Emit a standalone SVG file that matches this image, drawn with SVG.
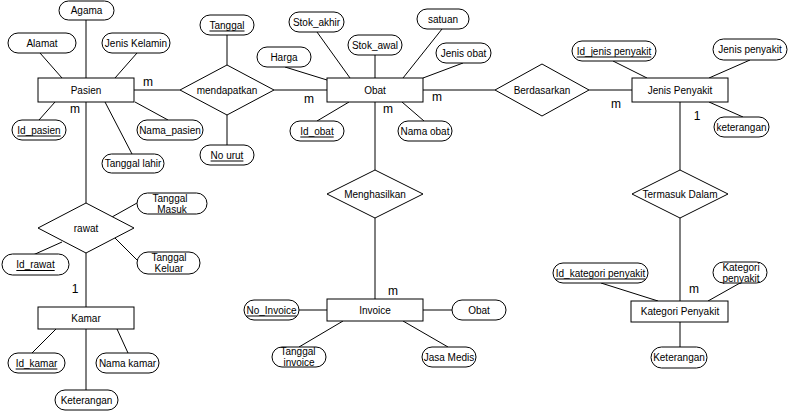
<svg xmlns="http://www.w3.org/2000/svg" width="788" height="411" viewBox="0 0 788 411">
<style>
text{font-family:"Liberation Sans",Arial,sans-serif;font-size:10px;fill:#000;text-anchor:middle;dominant-baseline:central}
.u{text-decoration:underline}
.c{font-size:12px;dominant-baseline:auto}
.e rect,.r rect,.d polygon{fill:#fff;stroke:#000;stroke-width:1}
#connectors line{stroke:#000;stroke-width:1}
</style>
<rect width="788" height="411" fill="#fff"/>
<g id="connectors">
<line x1="86" y1="20" x2="86" y2="78"/>
<line x1="40" y1="53" x2="62" y2="78"/>
<line x1="137" y1="53" x2="115" y2="78"/>
<line x1="39" y1="120" x2="55" y2="102"/>
<line x1="135" y1="102" x2="168" y2="120"/>
<line x1="105" y1="102" x2="132" y2="154"/>
<line x1="134" y1="90" x2="180" y2="90"/>
<line x1="227" y1="35" x2="227" y2="65"/>
<line x1="227" y1="115" x2="227" y2="145"/>
<line x1="274" y1="90" x2="327" y2="90"/>
<line x1="317" y1="32" x2="350" y2="78"/>
<line x1="375" y1="55" x2="375" y2="78"/>
<line x1="442" y1="29" x2="403" y2="78"/>
<line x1="285" y1="67" x2="327" y2="80"/>
<line x1="463" y1="63" x2="423" y2="78"/>
<line x1="317" y1="121" x2="349" y2="102"/>
<line x1="424" y1="121" x2="402" y2="102"/>
<line x1="423" y1="90" x2="495" y2="90"/>
<line x1="589" y1="90" x2="632" y2="90"/>
<line x1="613" y1="61" x2="647" y2="78"/>
<line x1="750" y1="60" x2="709" y2="78"/>
<line x1="709" y1="102" x2="743" y2="117"/>
<line x1="680" y1="102" x2="680" y2="170"/>
<line x1="680" y1="218" x2="680" y2="301"/>
<line x1="601" y1="283" x2="658" y2="301"/>
<line x1="740" y1="283" x2="708" y2="301"/>
<line x1="680" y1="322" x2="680" y2="347"/>
<line x1="375" y1="102" x2="375" y2="170"/>
<line x1="375" y1="218" x2="375" y2="299"/>
<line x1="299" y1="310" x2="327" y2="310"/>
<line x1="423" y1="310" x2="452" y2="310"/>
<line x1="299" y1="347" x2="343" y2="321"/>
<line x1="448" y1="347" x2="403" y2="321"/>
<line x1="86" y1="102" x2="86" y2="203"/>
<line x1="137" y1="203" x2="112" y2="217"/>
<line x1="115" y1="238" x2="137" y2="260"/>
<line x1="33" y1="255" x2="62" y2="242"/>
<line x1="86" y1="253" x2="86" y2="307"/>
<line x1="32" y1="353" x2="56" y2="329"/>
<line x1="128" y1="353" x2="117" y2="329"/>
<line x1="86" y1="329" x2="86" y2="390"/>
</g>
<g id="cardinalities">
<text class="c" x="148" y="86">m</text>
<text class="c" x="75" y="113">m</text>
<text class="c" x="309" y="103">m</text>
<text class="c" x="388" y="113">m</text>
<text class="c" x="437" y="101">m</text>
<text class="c" x="616" y="108">m</text>
<text class="c" x="697" y="120">1</text>
<text class="c" x="75" y="293">1</text>
<text class="c" x="393" y="295">m</text>
<text class="c" x="694" y="293">m</text>
</g>
<g id="pasien" class="r"><rect x="38" y="78" width="96" height="24"/><text x="86" y="90">Pasien</text></g>
<g id="obat" class="r"><rect x="327" y="78" width="96" height="24"/><text x="375" y="90">Obat</text></g>
<g id="jenis-penyakit" class="r"><rect x="632" y="78" width="96" height="24"/><text x="680" y="90">Jenis Penyakit</text></g>
<g id="kamar" class="r"><rect x="38" y="307" width="96" height="22"/><text x="86" y="318">Kamar</text></g>
<g id="invoice" class="r"><rect x="327" y="299" width="96" height="22"/><text x="375" y="310">Invoice</text></g>
<g id="kategori-penyakit" class="r"><rect x="631" y="301" width="97" height="21"/><text x="680" y="311.5">Kategori Penyakit</text></g>
<g id="mendapatkan" class="d"><polygon points="180,90 227,65 274,90 227,115"/><text x="227" y="90">mendapatkan</text></g>
<g id="berdasarkan" class="d"><polygon points="495,90 542,64 589,90 542,116"/><text x="542" y="90">Berdasarkan</text></g>
<g id="menghasilkan" class="d"><polygon points="327,194 375,170 423,194 375,218"/><text x="375" y="194">Menghasilkan</text></g>
<g id="termasuk-dalam" class="d"><polygon points="632,194 680,170 728,194 680,218"/><text x="680" y="194">Termasuk Dalam</text></g>
<g id="rawat" class="d"><polygon points="38,228 86,203 134,228 86,253"/><text x="86" y="228">rawat</text></g>
<g id="agama" class="e"><rect x="59" y="1" width="55" height="19" rx="9.5"/><text x="86.5" y="10.5">Agama</text></g>
<g id="alamat" class="e"><rect x="8" y="33" width="68" height="20" rx="10"/><text x="42" y="43">Alamat</text></g>
<g id="jenis-kelamin" class="e"><rect x="102" y="33" width="68" height="20" rx="10"/><text x="136" y="43">Jenis Kelamin</text></g>
<g id="id-pasien" class="e"><rect x="12" y="120" width="54" height="20" rx="10"/><text class="u" x="39" y="130">Id_pasien</text></g>
<g id="nama-pasien" class="e"><rect x="137" y="120" width="66" height="20" rx="10"/><text x="170" y="130">Nama_pasien</text></g>
<g id="tanggal-lahir" class="e"><rect x="102" y="154" width="62" height="19" rx="9.5"/><text x="133" y="163.5">Tanggal lahir</text></g>
<g id="tanggal" class="e"><rect x="200" y="15" width="54" height="20" rx="10"/><text class="u" x="227" y="25">Tanggal</text></g>
<g id="no-urut" class="e"><rect x="200" y="145" width="54" height="20" rx="10"/><text class="u" x="227" y="155">No urut</text></g>
<g id="stok-akhir" class="e"><rect x="289" y="12" width="55" height="20" rx="10"/><text x="316.5" y="22">Stok_akhir</text></g>
<g id="stok-awal" class="e"><rect x="348" y="35" width="54" height="20" rx="10"/><text x="375" y="45">Stok_awal</text></g>
<g id="satuan" class="e"><rect x="417" y="9" width="52" height="20" rx="10"/><text x="443" y="19">satuan</text></g>
<g id="harga" class="e"><rect x="257" y="47" width="54" height="20" rx="10"/><text x="284" y="57">Harga</text></g>
<g id="jenis-obat" class="e"><rect x="436" y="43" width="55" height="20" rx="10"/><text x="463.5" y="53">Jenis obat</text></g>
<g id="id-obat" class="e"><rect x="290" y="121" width="54" height="20" rx="10"/><text class="u" x="317" y="131">Id_obat</text></g>
<g id="nama-obat" class="e"><rect x="398" y="121" width="54" height="20" rx="10"/><text x="425" y="131">Nama obat</text></g>
<g id="id-jenis-penyakit" class="e"><rect x="572" y="41" width="84" height="20" rx="10"/><text class="u" x="614" y="51">Id_jenis penyakit</text></g>
<g id="jenis-penyakit-attr" class="e"><rect x="713" y="39" width="74" height="21" rx="10.5"/><text x="750" y="49.5">Jenis penyakit</text></g>
<g id="keterangan-jp" class="e"><rect x="714" y="117" width="55" height="20" rx="10"/><text x="741.5" y="127">keterangan</text></g>
<g id="tanggal-masuk" class="e"><rect x="137" y="193" width="70" height="21" rx="10.5"/><text x="170" y="198">Tanggal</text><text x="172" y="209">Masuk</text></g>
<g id="tanggal-keluar" class="e"><rect x="137" y="252" width="63" height="22" rx="11"/><text x="169" y="257">Tanggal</text><text x="169" y="268">Keluar</text></g>
<g id="id-rawat" class="e"><rect x="2" y="254" width="67" height="21" rx="10.5"/><text class="u" x="35.5" y="264.5">Id_rawat</text></g>
<g id="id-kamar" class="e"><rect x="8" y="353" width="57" height="20" rx="10"/><text class="u" x="36.5" y="363">Id_kamar</text></g>
<g id="nama-kamar" class="e"><rect x="96" y="353" width="63" height="20" rx="10"/><text x="127.5" y="363">Nama kamar</text></g>
<g id="keterangan-kamar" class="e"><rect x="55" y="390" width="63" height="20" rx="10"/><text x="86.5" y="400">Keterangan</text></g>
<g id="no-invoice" class="e"><rect x="244" y="300" width="55" height="20" rx="10"/><text class="u" x="271.5" y="310">No_Invoice</text></g>
<g id="obat-attr" class="e"><rect x="452" y="300" width="54" height="20" rx="10"/><text x="479" y="310">Obat</text></g>
<g id="tanggal-invoice" class="e"><rect x="272" y="347" width="54" height="20" rx="10"/><text x="298" y="351.5">Tanggal</text><text x="299" y="362">invoice</text></g>
<g id="jasa-medis" class="e"><rect x="422" y="347" width="54" height="20" rx="10"/><text x="449" y="357">Jasa Medis</text></g>
<g id="id-kategori-penyakit" class="e"><rect x="553" y="263" width="95" height="20" rx="10"/><text class="u" x="600.5" y="273">Id_kategori penyakit</text></g>
<g id="kategori-penyakit-attr" class="e"><rect x="713" y="262" width="54" height="21" rx="10.5"/><text x="741" y="267">Kategori</text><text x="741" y="278">penyakit</text></g>
<g id="keterangan-kp" class="e"><rect x="651" y="347" width="56" height="21" rx="10.5"/><text x="679" y="357.5">Keterangan</text></g>
</svg>
